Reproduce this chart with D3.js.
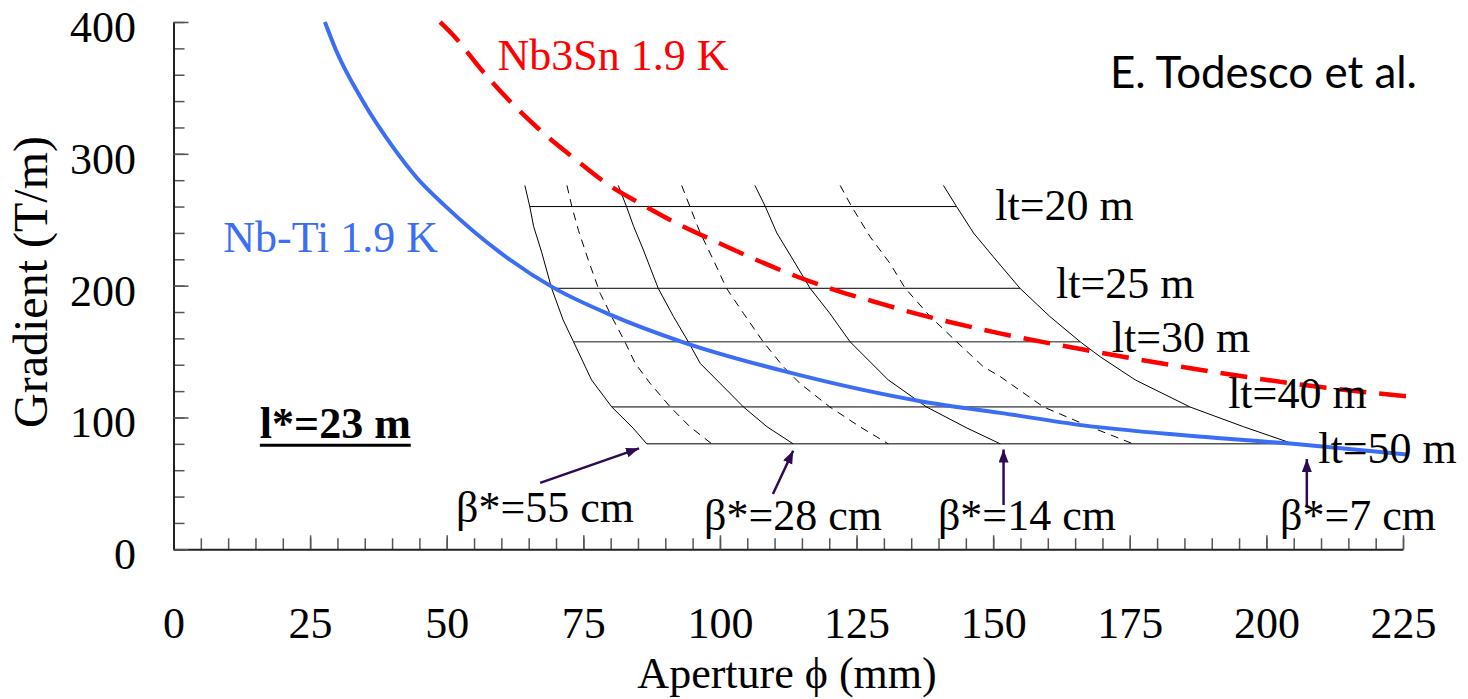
<!DOCTYPE html>
<html><head><meta charset="utf-8">
<script src="https://cdn.jsdelivr.net/npm/d3@7"></script>
<style>body{margin:0;background:#fff}</style>
</head><body>
<svg id="chart" width="1468" height="699"></svg>
<script>
// ---------- data (aperture mm, gradient T/m) ----------
const xTicks = [0, 25, 50, 75, 100, 125, 150, 175, 200, 225];
const yTicks = [0, 100, 200, 300, 400];

const nbTi = [[27.7,400],[29.7,379],[34.5,341],[40,306],[44.6,281.5],[49.7,260.5],[59.8,225],
  [69.5,198.5],[79.9,178],[93.3,157],[112.8,134],[137.2,112],[151.3,103.5],[166.5,94],[191,84.5],[204.9,80],[225.7,72]];
const nb3Sn = [[48.8,400],[51.2,390],[56.1,365],[61.3,341],[66.8,319],[72.9,298],[79.6,276.5],[86,261],
  [92.7,246],[100,232],[106.7,219.5],[113.7,207.5],[120.8,197],[128.1,188],[135.7,179],[143,171.5],
  [151,164],[166.5,151.5],[189.7,135],[206.2,125],[225.7,116]];

// iso-beta* / aperture grid curves (left to right)
const iso1 = [[64.3,276],[65.2,260],[65.9,245],[67.4,225],[69.2,198],[71.3,174],[73.2,157.5],[76.5,128.5],[80.2,108],[84.1,92],[86.6,80]];
const iso2 = [[72,276],[72.9,260],[74.1,242],[75.9,219.5],[78.1,194],[80.5,174],[82.6,157.5],[84.5,141],[87.2,126],[90.9,108],[94.5,93],[98.5,80]];
const iso3 = [[81.4,276],[82.9,260],[84.2,245],[86,227],[88.7,198],[91.5,176.5],[94.2,157.5],[96.4,141],[100,126],[104.3,108],[108.6,93],[113.4,80]];
const iso4 = [[93,276],[94.5,260],[96.4,240],[98.8,219.5],[101.2,198],[104.3,179],[107.9,157.5],[111.6,138.5],[114.6,126],[120.1,108],[125.6,93],[130.8,80]];
const iso5 = [[106.4,276],[108.3,260],[110.4,240],[113.4,219.5],[116.5,198],[120.1,179],[123.8,157.5],[130.8,128.5],[137.8,108],[145.2,92],[151.3,80]];
const iso6 = [[122,276],[124.1,260],[127.5,237],[131.1,217],[133.9,198],[138.5,176.5],[143.3,157.5],[148.2,138.5],[151.3,131],[159.2,108],[167.7,93],[175.6,80]];
const iso7 = [[140.9,276],[143.3,260],[146.4,240],[150,222],[154.9,198],[160.4,176.5],[165.9,157.5],[169.6,146],[176,128.5],[186,108],[195.8,93],[204.9,80]];
const isoCurves = [iso1, iso2, iso3, iso4, iso5, iso6, iso7];

// constant-gradient lines for each triplet length
const ltLevels = [260, 198, 157.5, 108, 80];
const ltStart  = [65.2, 69.2, 73.2, 80.2, 86.6];
const ltEnd    = [143.3, 154.9, 165.9, 186, 204.9];
const ltLabels = ["lt=20 m", "lt=25 m", "lt=30 m", "lt=40 m", "lt=50 m"];
const ltLabelAt = [[150.4,249.8],[161.5,190.4],[171.7,150],[193,107],[209.5,65.3]];

const betaLabels = ["β*=55 cm", "β*=28 cm", "β*=14 cm", "β*=7 cm"];
const betaLabelAt = [[51.7,21],[97.1,14.6],[139.9,14.6],[202.5,14.6]];
const betaTail = [[67.1,50.4],[109.7,42],[151.9,33.6],[207.4,33.6]];
const betaHead = [[85.2,76.6],[113.4,74.8],[151.9,75.7],[207.4,68.5]];

// ---------- drawing ----------
const svg = d3.select("#chart");
svg.append("rect").attr("width",1468).attr("height",699).attr("fill","#fff");
const x = d3.scaleLinear().domain([0,225]).range([173.5,1403]);
const y = d3.scaleLinear().domain([0,400]).range([549.3,22]);
const serif = "'Liberation Serif','Times New Roman',serif";
const line = d3.line().x(d=>x(d[0])).y(d=>y(d[1]));
const smooth = d3.line().x(d=>x(d[0])).y(d=>y(d[1])).curve(d3.curveMonotoneX);

// minor ticks
svg.append("g").attr("transform",`translate(0,${y(0)})`)
  .call(d3.axisBottom(x).tickValues(d3.range(0,226,5)).tickSizeInner(-11).tickSizeOuter(0).tickFormat(""))
  .call(g=>g.select(".domain").remove());
svg.append("g").attr("transform",`translate(${x(0)},0)`)
  .call(d3.axisLeft(y).tickValues(d3.range(0,401,20)).tickSizeInner(-11).tickSizeOuter(0).tickFormat(""))
  .call(g=>g.select(".domain").remove());
// major
const gx = svg.append("g").attr("transform",`translate(0,${y(0)})`)
  .call(d3.axisBottom(x).tickValues(xTicks).tickSizeInner(-14).tickSizeOuter(0).tickPadding(57.5));
const gy = svg.append("g").attr("transform",`translate(${x(0)},0)`)
  .call(d3.axisLeft(y).tickValues(yTicks).tickSizeInner(-15).tickSizeOuter(0).tickPadding(37.5));
svg.selectAll(".tick line").attr("stroke","#555").attr("stroke-width",1.5);
[gx,gy].forEach(g=>{
  g.attr("font-family",serif).attr("font-size",44);
  g.selectAll("text").attr("fill","#000");
  g.select(".domain").attr("stroke","#222").attr("stroke-width",2);
});
gy.selectAll("text").attr("dy","0.44em");

// axis titles
svg.append("text").attr("x",787).attr("y",688).attr("text-anchor","middle")
  .attr("font-family",serif).attr("font-size",44).text("Aperture ϕ (mm)");
svg.append("text").attr("transform","translate(47,282) rotate(-90)").attr("text-anchor","middle")
  .attr("font-family",serif).attr("font-size",48).text("Gradient (T/m)");

// grid
const grid = svg.append("g").attr("fill","none");
ltLevels.forEach((v,i)=>{
  grid.append("path").attr("d", line([[ltStart[i],v],[ltEnd[i],v]]))
    .attr("stroke", i===2 ? "#666" : "#000").attr("stroke-width", i===2 ? 1.6 : 1);
});
isoCurves.forEach((c,i)=>{
  grid.append("path").attr("d", line(c)).attr("stroke","#000").attr("stroke-width",1)
    .attr("stroke-dasharray", i%2===1 ? "8,6" : null);
});

// conductor limit curves
svg.append("path").attr("d", smooth(nbTi)).attr("fill","none").attr("stroke","#3b6ef5").attr("stroke-width",4);
svg.append("path").attr("d", smooth(nb3Sn)).attr("fill","none").attr("stroke","#ff0000").attr("stroke-width",4.5)
  .attr("stroke-dasharray","27,13");

// labels
svg.append("text").attr("x",x(9.1)).attr("y",y(225.8)).attr("font-family",serif).attr("font-size",44)
  .attr("fill","#3b6ef5").text("Nb-Ti 1.9 K");
svg.append("text").attr("x",x(59.3)).attr("y",y(363.6)).attr("font-family",serif).attr("font-size",44)
  .attr("fill","#ff0000").text("Nb3Sn 1.9 K");
ltLabels.forEach((t,i)=>{
  svg.append("text").attr("x",x(ltLabelAt[i][0])).attr("y",y(ltLabelAt[i][1]))
    .attr("font-family",serif).attr("font-size",44).text(t);
});
betaLabels.forEach((t,i)=>{
  svg.append("text").attr("x",x(betaLabelAt[i][0])).attr("y",y(betaLabelAt[i][1]))
    .attr("font-family",serif).attr("font-size",44).text(t);
});

// arrows
svg.append("defs").append("marker").attr("id","ah").attr("markerUnits","userSpaceOnUse")
  .attr("markerWidth",14).attr("markerHeight",12).attr("refX",13).attr("refY",5).attr("orient","auto")
  .append("path").attr("d","M0,0L13,5L0,10Z").attr("fill","#2e0a55");
betaTail.forEach((t,i)=>{
  svg.append("line").attr("x1",x(t[0])).attr("y1",y(t[1])).attr("x2",x(betaHead[i][0])).attr("y2",y(betaHead[i][1]))
    .attr("stroke","#2e0a55").attr("stroke-width",2.5).attr("marker-end","url(#ah)");
});

// l* label (bold, underlined)
const ls = svg.append("text").attr("x",x(15.8)).attr("y",y(84.2)).attr("font-family",serif)
  .attr("font-size",44).attr("font-weight","bold").text("l*=23 m");
const lw = ls.node().getComputedTextLength();
svg.append("line").attr("x1",x(15.8)).attr("x2",x(15.8)+lw).attr("y1",y(84.2)+7).attr("y2",y(84.2)+7)
  .attr("stroke","#000").attr("stroke-width",3);

// credit
const cr = svg.append("text").attr("x",1110).attr("y",88).attr("font-family","Lato,'Open Sans',sans-serif")
  .attr("font-size",40).attr("fill","#000").text("E. Todesco et al.");
const cw = cr.node().getComputedTextLength();
cr.attr("font-size", 40*307/cw);
</script>
</body></html>
